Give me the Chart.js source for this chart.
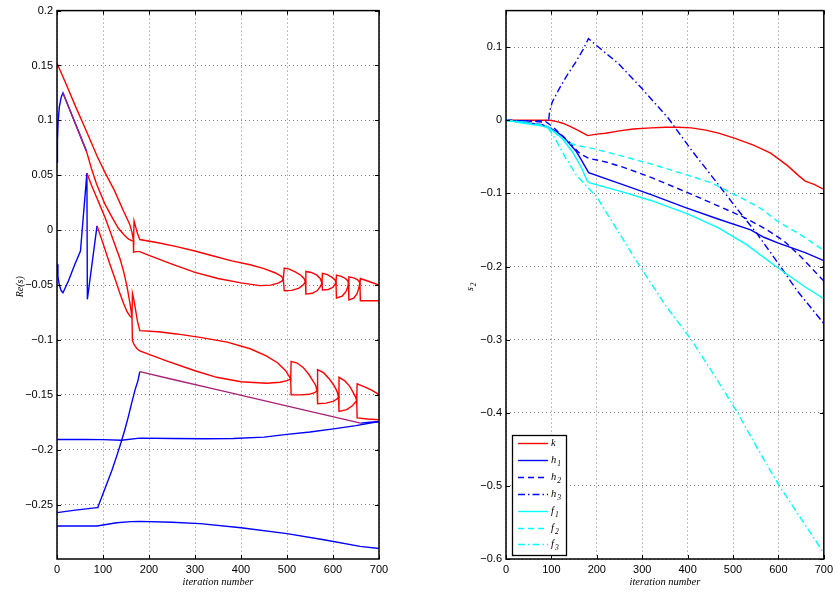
<!DOCTYPE html>
<html>
<head>
<meta charset="utf-8">
<script src="https://cdn.jsdelivr.net/npm/chart.js@4.4.1/dist/chart.umd.min.js"></script>
<style>
  html, body { margin: 0; padding: 0; background: #fff; }
  #wrap { position: relative; width: 837px; height: 594px; }
  canvas { position: absolute; top: 0; }
  #leftChart { left: 0; }
  #rightChart { left: 420px; }
</style>
</head>
<body>
<div id="wrap">
  <canvas id="leftChart" width="400" height="594"></canvas>
  <canvas id="rightChart" width="417" height="594"></canvas>
</div>
<script>
// ---- ticks / names ----
const xTicks = [0, 100, 200, 300, 400, 500, 600, 700];
const leftYTicks = [-0.25, -0.2, -0.15, -0.1, -0.05, 0, 0.05, 0.1, 0.15, 0.2];
const rightYTicks = [-0.6, -0.5, -0.4, -0.3, -0.2, -0.1, 0, 0.1];
const seriesNames = ['k', 'h1', 'h2', 'h3', 'f1', 'f2', 'f3'];

// ---- left plot: Re(s) curves, [iteration, value] ----
const redA = [[0,0.152],[20,0.133],[40,0.113],[60,0.094],[87,0.0675],[105,0.052],[125,0.036],[145,0.017],[158,0.0055],[163,-0.002],[165.5,-0.008],[166.5,-0.0095],[167.5,0.0085],[171,0.003],[175,-0.003],[180,-0.0085],[220,-0.0115],[260,-0.015],[300,-0.019],[340,-0.0235],[380,-0.028],[420,-0.0315],[450,-0.035],[475,-0.039],[488,-0.042],[492,-0.0445],[494,-0.0345],[505,-0.0355],[518,-0.038],[530,-0.041],[537,-0.044],[540,-0.047],[541,-0.0376],[553,-0.0385],[565,-0.041],[572,-0.044],[576,-0.048],[577,-0.0394],[588,-0.0405],[598,-0.043],[604,-0.045],[606.5,-0.048],[607.5,-0.0409],[618,-0.042],[627,-0.044],[632,-0.046],[633.5,-0.048],[634.5,-0.0425],[645,-0.0435],[653,-0.045],[657,-0.047],[658.5,-0.048],[659.5,-0.044],[680,-0.047],[700,-0.050]];
const redB = [[13,0.125],[40,0.097],[64,0.072],[75,0.056],[86,0.042],[95,0.033],[104,0.024],[118,0.013],[133,0.002],[145,-0.004],[155,-0.008],[163,-0.0097],[166,-0.0097],[166.5,-0.020],[172,-0.0195],[180,-0.0195],[200,-0.023],[250,-0.031],[300,-0.0385],[350,-0.044],[400,-0.048],[441,-0.0505],[465,-0.050],[482,-0.048],[490,-0.046],[492,-0.0445],[494,-0.0552],[510,-0.0548],[525,-0.053],[535,-0.050],[540,-0.047],[541,-0.0582],[555,-0.0575],[566,-0.055],[573,-0.051],[576,-0.048],[577,-0.0545],[590,-0.054],[600,-0.052],[606.5,-0.048],[607.5,-0.0618],[620,-0.060],[628,-0.056],[632,-0.052],[633.5,-0.048],[634.5,-0.0636],[645,-0.062],[652,-0.058],[656,-0.053],[658.5,-0.048],[659.5,-0.0643],[700,-0.0643]];
const redC = [[65,0.052],[75,0.041],[86,0.030],[95,0.021],[104,0.012],[115,-0.0005],[129,-0.017],[137,-0.026],[145,-0.038],[152,-0.051],[158,-0.065],[161.5,-0.075],[163,-0.0795],[164,-0.0576],[167,-0.063],[171,-0.073],[175,-0.083],[180,-0.0915],[220,-0.0925],[260,-0.0945],[311,-0.0976],[370,-0.102],[420,-0.108],[455,-0.1145],[480,-0.121],[497,-0.128],[508,-0.1355],[509,-0.1195],[522,-0.121],[535,-0.125],[547,-0.131],[556,-0.137],[562,-0.141],[565.5,-0.146],[566.5,-0.127],[580,-0.130],[593,-0.136],[603,-0.142],[609,-0.147],[612,-0.152],[613,-0.134],[625,-0.137],[636,-0.142],[644,-0.148],[649,-0.152],[651.5,-0.155],[652.5,-0.140],[670,-0.143],[685,-0.146],[700,-0.1497]];
const redD = [[87,0.004],[100,-0.012],[115,-0.031],[130,-0.049],[137,-0.058],[145,-0.067],[152,-0.074],[158,-0.078],[163,-0.0797],[164,-0.1006],[168,-0.1045],[174,-0.108],[180,-0.110],[238,-0.119],[300,-0.128],[347,-0.134],[400,-0.138],[456,-0.1394],[485,-0.1385],[500,-0.137],[508,-0.1355],[509,-0.150],[530,-0.150],[548,-0.1495],[560,-0.148],[565.5,-0.146],[566.5,-0.158],[585,-0.1575],[600,-0.156],[608,-0.154],[612,-0.152],[613,-0.165],[630,-0.1635],[642,-0.160],[648,-0.157],[651.5,-0.155],[652.5,-0.171],[675,-0.172],[700,-0.1727]];
const blue1 = [[0,0.062],[1,0.082],[2.5,0.099],[5,0.112],[9,0.121],[13,0.125],[40,0.097],[64,0.072]];
const blue2 = [[0,-0.031],[2,-0.042],[5,-0.050],[9,-0.055],[13,-0.057],[25,-0.046],[38,-0.032],[51,-0.019],[65,0.052],[66,-0.063],[87,0.004]];
const blue3 = [[0,-0.1906],[60,-0.1906],[100,-0.1908],[140,-0.1913],[180,-0.1894],[250,-0.1898],[320,-0.1900],[383,-0.1898],[450,-0.1885],[500,-0.1860],[550,-0.1838],[601,-0.1810],[650,-0.1780],[700,-0.1743]];
const blue4 = [[0,-0.2573],[40,-0.2550],[87,-0.2527],[89,-0.2522],[100,-0.240],[111,-0.228],[120,-0.218],[129,-0.2067],[138,-0.195],[147,-0.1825],[155,-0.170],[162,-0.158],[170,-0.145],[176,-0.137],[180,-0.1288],[250,-0.1358],[350,-0.1455],[450,-0.1553],[550,-0.1650],[660,-0.1757],[680,-0.1750],[700,-0.1745]];
const blue5 = [[0,-0.2694],[87,-0.2694],[100,-0.2685],[130,-0.2665],[160,-0.2655],[180,-0.2652],[250,-0.2660],[311,-0.2673],[400,-0.2710],[500,-0.2764],[580,-0.2820],[659,-0.2880],[700,-0.2900]];

// ---- right plot: s2 series ----
const kSeries = [[0,0],[50,0],[96,0],[110,-0.0015],[125,-0.004],[140,-0.008],[160,-0.014],[180,-0.021],[200,-0.019],[219,-0.0177],[250,-0.0145],[280,-0.012],[320,-0.0104],[352,-0.0095],[380,-0.0096],[408,-0.0104],[440,-0.0135],[470,-0.018],[503,-0.0245],[545,-0.034],[583,-0.045],[620,-0.062],[645,-0.076],[659,-0.0831],[680,-0.088],[700,-0.0945]];
const h1Series = [[0,0],[40,-0.003],[80,-0.006],[96,-0.0104],[110,-0.015],[125,-0.022],[140,-0.032],[154,-0.042],[165,-0.053],[175,-0.064],[182,-0.0717],[262,-0.089],[321,-0.102],[394,-0.119],[467,-0.135],[539,-0.150],[568,-0.160],[600,-0.168],[659,-0.181],[700,-0.192]];
const h2Series = [[0,0],[50,-0.001],[90,-0.003],[105,-0.010],[120,-0.019],[140,-0.030],[160,-0.044],[170,-0.048],[182,-0.052],[220,-0.057],[262,-0.065],[321,-0.0785],[408,-0.101],[467,-0.117],[525,-0.133],[570,-0.148],[612,-0.165],[650,-0.187],[700,-0.220]];
const h3Series = [[0,0],[50,-0.001],[90,-0.001],[94,0.0],[96,0.012],[102,0.025],[118,0.044],[135,0.062],[154,0.080],[170,0.097],[181.6,0.1117],[200,0.102],[248.6,0.077],[300,0.043],[357.6,0.0027],[410,-0.042],[466.6,-0.087],[510,-0.122],[553.9,-0.156],[600,-0.196],[641,-0.233],[670,-0.255],[700,-0.278]];
const f1Series = [[0,0],[40,-0.004],[80,-0.008],[96,-0.011],[110,-0.017],[125,-0.026],[145,-0.042],[160,-0.058],[170,-0.070],[178,-0.082],[183,-0.0854],[262,-0.099],[321,-0.110],[400,-0.128],[467,-0.1467],[530,-0.170],[597,-0.201],[659,-0.228],[700,-0.244]];
const f2Series = [[0,0],[50,-0.004],[90,-0.008],[100,-0.013],[115,-0.021],[138,-0.031],[160,-0.035],[190,-0.0385],[250,-0.048],[321,-0.060],[400,-0.075],[452,-0.0854],[510,-0.1035],[560,-0.120],[597,-0.1376],[650,-0.157],[700,-0.178]];
const f3Series = [[0,0],[50,-0.003],[90,-0.008],[103,-0.020],[117,-0.035],[131,-0.051],[154,-0.074],[180,-0.092],[200,-0.105],[233,-0.138],[285,-0.190],[350,-0.252],[408,-0.300],[460,-0.350],[510,-0.400],[555,-0.450],[601,-0.499],[650,-0.545],[700,-0.592]];

const RED = '#ff0000', BLUE = '#0000ff', CYAN = '#00ffff', PURPLE = '#a8207a';
const DASH = [6, 4], DASHDOT = [7, 3, 1.5, 3];
const TICK_FONT = { family: '"Liberation Sans", Arial, Helvetica, sans-serif', size: 11 };
const SERIF = '"Liberation Serif", "Times New Roman", serif';

function pts(a) { return a.map(p => ({ x: p[0], y: p[1] })); }
function fmt(v) { return String(Math.round(v * 100) / 100).replace('-', '\u2212'); }

function line(data, color, dash, extra) {
  return Object.assign({
    data: pts(data), borderColor: color, borderWidth: 1.4, borderDash: dash || [],
    pointRadius: 0, fill: false, tension: 0
  }, extra || {});
}

// italic letter with optional subscript
function drawSub(ctx, main, sub, x, y, size, align) {
  ctx.font = 'italic ' + size + 'px ' + SERIF;
  const w1 = ctx.measureText(main).width;
  ctx.font = 'italic ' + (size * 0.72) + 'px ' + SERIF;
  const w2 = sub ? ctx.measureText(sub).width + 1 : 0;
  let sx = align === 'center' ? x - (w1 + w2) / 2 : x;
  ctx.textAlign = 'left';
  ctx.textBaseline = 'middle';
  ctx.font = 'italic ' + size + 'px ' + SERIF;
  ctx.fillText(main, sx, y);
  if (sub) {
    ctx.font = 'italic ' + (size * 0.72) + 'px ' + SERIF;
    ctx.fillText(sub, sx + w1 + 1, y + size * 0.38);
  }
}

// box, inward ticks, axis titles and legend (MATLAB look)
const framePlugin = {
  id: 'frame',
  afterDraw(chart, args, opts) {
    const ctx = chart.ctx, a = chart.chartArea;
    const xs = chart.scales.x, ys = chart.scales.y;
    ctx.save();
    ctx.strokeStyle = '#000';
    ctx.lineWidth = 1;
    ctx.beginPath();
    opts.xTicks.forEach(v => {
      const px = Math.round(xs.getPixelForValue(v)) + 0.5;
      ctx.moveTo(px, a.bottom); ctx.lineTo(px, a.bottom - 4);
      ctx.moveTo(px, a.top); ctx.lineTo(px, a.top + 4);
    });
    opts.yTicks.forEach(v => {
      const py = Math.round(ys.getPixelForValue(v)) + 0.5;
      ctx.moveTo(a.left, py); ctx.lineTo(a.left + 4, py);
      ctx.moveTo(a.right, py); ctx.lineTo(a.right - 4, py);
    });
    ctx.stroke();
    ctx.lineWidth = 1.5;
    ctx.strokeRect(a.left, a.top, a.right - a.left, a.bottom - a.top);

    ctx.fillStyle = '#000';
    drawSub(ctx, opts.xTitle, '', (a.left + a.right) / 2, a.bottom + 23, 10.5, 'center');

    if (opts.legend) {
      const bx = a.left + 6, bw = 54, bh = 120, by = a.bottom - 4 - bh;
      ctx.fillStyle = '#fff';
      ctx.fillRect(bx, by, bw, bh);
      ctx.lineWidth = 1.3;
      ctx.strokeStyle = '#000';
      ctx.strokeRect(bx + 0.5, by + 0.5, bw, bh);
      chart.data.datasets.forEach((ds, i) => {
        const ly = Math.round(by + 8 + i * 16.9) + 0.5;
        ctx.strokeStyle = ds.borderColor;
        ctx.lineWidth = 1.4;
        ctx.setLineDash(ds.borderDash || []);
        ctx.beginPath(); ctx.moveTo(bx + 6, ly); ctx.lineTo(bx + 36, ly); ctx.stroke();
        ctx.setLineDash([]);
        ctx.fillStyle = '#000';
        drawSub(ctx, opts.legend[i].charAt(0), opts.legend[i].slice(1), bx + 39, ly, 10.5, 'left');
      });
    }

    ctx.translate(opts.yTitleX, (a.top + a.bottom) / 2 + 2);
    ctx.rotate(-Math.PI / 2);
    ctx.fillStyle = '#000';
    drawSub(ctx, opts.yTitle, opts.yTitleSub || '', 0, 0, 10, 'center');
    ctx.restore();
  }
};

function makeOptions(yMin, yMax, yTicks, yWidth, padRight, frame) {
  return {
    responsive: false,
    animation: false,
    devicePixelRatio: 1,
    layout: { padding: { left: 0, right: padRight, top: 9, bottom: 0 } },
    plugins: { legend: { display: false }, tooltip: { enabled: false }, frame: frame },
    scales: {
      x: {
        type: 'linear', min: 0, max: 700, bounds: 'data',
        afterBuildTicks: s => { s.ticks = xTicks.map(v => ({ value: v })); },
        afterFit: s => { s.height = 35; },
        ticks: { font: TICK_FONT, color: '#000', padding: 4, maxRotation: 0, autoSkip: false, callback: v => fmt(v) },
        grid: { color: 'rgba(0,0,0,0.5)', lineWidth: 1, drawTicks: false },
        border: { display: false, dash: [1, 3] }
      },
      y: {
        type: 'linear', min: yMin, max: yMax, bounds: 'data',
        afterBuildTicks: s => { s.ticks = yTicks.map(v => ({ value: v })); },
        afterFit: s => { s.width = yWidth; },
        ticks: { font: TICK_FONT, color: '#000', padding: 4, autoSkip: false, callback: v => fmt(v) },
        grid: { color: 'rgba(0,0,0,0.5)', lineWidth: 1, drawTicks: false },
        border: { display: false, dash: [1, 3] }
      }
    }
  };
}

// left: red curves drawn above blue ones
const leftSets = [
  line(blue1, BLUE),
  line(blue2, BLUE),
  line(blue3, BLUE),
  line(blue4, BLUE, null, { segment: { borderColor: c => (c.p0.parsed.x >= 179 && c.p1.parsed.x <= 661) ? PURPLE : undefined } }),
  line(blue5, BLUE),
  line(redA, RED),
  line(redB, RED, null, { segment: { borderColor: c => c.p1.parsed.x <= 64.5 ? PURPLE : undefined } }),
  line(redC, RED),
  line(redD, RED)
];
leftSets.forEach((d, i) => { d.order = -i; });

new Chart(document.getElementById('leftChart'), {
  type: 'line',
  data: { datasets: leftSets },
  options: makeOptions(-0.2995, 0.2, leftYTicks, 57, 21,
    { xTicks: xTicks, yTicks: leftYTicks, xTitle: 'iteration number', yTitle: 'Re(s)', yTitleX: 20 }),
  plugins: [framePlugin]
});

const rightSets = [
  line(kSeries, RED),
  line(h1Series, BLUE),
  line(h2Series, BLUE, DASH),
  line(h3Series, BLUE, DASHDOT),
  line(f1Series, CYAN),
  line(f2Series, CYAN, DASH),
  line(f3Series, CYAN, DASHDOT)
];
rightSets.forEach((d, i) => { d.order = -i; });

new Chart(document.getElementById('rightChart'), {
  type: 'line',
  data: { datasets: rightSets },
  options: makeOptions(-0.6, 0.15, rightYTicks, 86, 10,
    { xTicks: xTicks, yTicks: rightYTicks, xTitle: 'iteration number', yTitle: 's', yTitleSub: '2', yTitleX: 50, legend: seriesNames }),
  plugins: [framePlugin]
});
</script>
</body>
</html>
